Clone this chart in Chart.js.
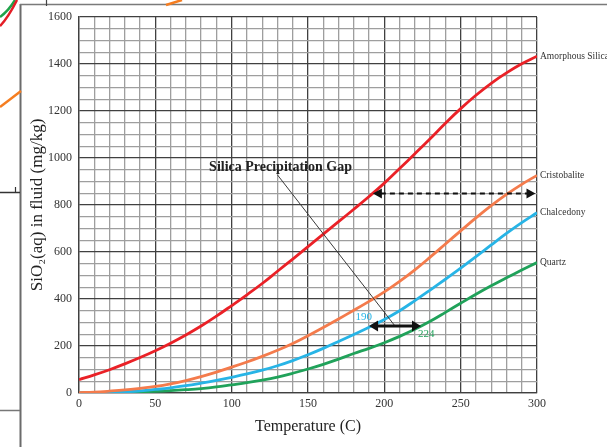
<!DOCTYPE html>
<html>
<head>
<meta charset="utf-8">
<script src="https://cdn.jsdelivr.net/npm/chart.js@4/dist/chart.umd.min.js"></script>
<style>
  html, body { margin: 0; padding: 0; background: #fff; }
  #wrap { position: relative; width: 607px; height: 447px; overflow: hidden; background: #fff; }
  #c { position: absolute; left: 0; top: 0; }
  #frame { position: absolute; left: 0; top: 0; pointer-events: none; }
</style>
</head>
<body>
<div id="wrap">
  <canvas id="c" width="607" height="447"></canvas>
  <!-- page frame and margin marks around the figure -->
  <svg id="frame" width="607" height="447">
    <line x1="20.5" y1="4" x2="20.5" y2="447" stroke="#6b6b6b" stroke-width="2"/>
    <line x1="20" y1="4.5" x2="607" y2="4.5" stroke="#7a7a7a" stroke-width="1.5"/>
    <line x1="46.5" y1="0" x2="46.5" y2="6" stroke="#444" stroke-width="1.2"/>
    <line x1="0" y1="192.5" x2="20" y2="192.5" stroke="#333" stroke-width="1.5"/>
    <line x1="15.5" y1="187" x2="15.5" y2="193" stroke="#333" stroke-width="1.2"/>
    <line x1="0" y1="410.5" x2="20" y2="410.5" stroke="#777" stroke-width="1.5"/>
    <path d="M0,17 C4,14 9,10 15,0" fill="none" stroke="#1fa34a" stroke-width="2.5"/>
    <path d="M0,26 C5,21 10,14 17,0" fill="none" stroke="#e41e26" stroke-width="2.5"/>
    <path d="M0,107 L21,91" fill="none" stroke="#f57d20" stroke-width="2.5"/>
    <path d="M166,5 L182,0" fill="none" stroke="#f57d20" stroke-width="2.5"/>
  </svg>
</div>
<script>
// Temperature grid (°C) and solubility of the silica phases (mg/kg)
const temps = [0,10,20,30,40,50,60,70,80,90,100,110,120,130,140,150,160,170,180,190,200,210,220,230,240,250,260,270,280,290,300];
const amorphousSilica = [57,77,99,124,151,180,212,247,285,327,372,418,466,518,570,623,676,729,782,836,893,955,1018,1082,1148,1210,1267,1318,1362,1401,1433];
const cristobalite = [2,4,8,13,20,28,39,53,70,89,110,132,156,182,211,244,279,315,352,390,430,475,524,578,634,690,745,797,845,888,926];
const chalcedony = [0,1,3,5,9,15,22,31,42,54,67,81,97,116,138,163,190,219,249,280,313,350,393,438,484,531,580,630,679,725,767];
const quartz = [0,1,2,3,5,7,10,14,19,26,35,44,55,68,84,102,122,144,168,190,214,241,271,305,343,382,420,456,490,523,555];

const seriesNames = ['Amorphous Silica', 'Cristobalite', 'Chalcedony', 'Quartz'];
const seriesColors = ['#ea2127', '#f47b4c', '#27b4e6', '#20a25a'];

// Annotated gaps: [start temperature, end temperature] and the solubility level they sit on
const gapArrow = [192.5, 299];
const gapLevel = 850;
const quartzGap = [190, 224];
const quartzGapLevel = 285;
const gapTitle = 'Silica Precipitation Gap';
const gapTitleAt = [132, 962];
const leaderFrom = [130, 928];

const xTicks = { min: 0, max: 300, minor: 10, major: 50 };
const yTicks = { min: 0, max: 1600, minor: 50, major: 200 };

const serif = "'Liberation Serif', 'Times New Roman', serif";

function toPoints(vals) { return temps.map((t, i) => ({ x: t, y: vals[i] })); }

function arrowHead(ctx, tipX, tipY, dir, len, half) {
  ctx.beginPath();
  ctx.moveTo(tipX, tipY);
  ctx.lineTo(tipX - dir * len, tipY - half);
  ctx.lineTo(tipX - dir * len, tipY + half);
  ctx.closePath();
  ctx.fill();
}

const annotations = {
  id: 'annotations',
  afterDatasetsDraw(chart) {
    const { ctx, scales: { x, y } } = chart;
    ctx.save();

    // leader line from the title to the quartz–chalcedony gap
    ctx.strokeStyle = '#3a3a3a';
    ctx.lineWidth = 1;
    ctx.beginPath();
    ctx.moveTo(x.getPixelForValue(leaderFrom[0]), y.getPixelForValue(leaderFrom[1]));
    ctx.lineTo(x.getPixelForValue((quartzGap[0] + quartzGap[1]) / 2), y.getPixelForValue(quartzGapLevel));
    ctx.stroke();

    // title of the annotation
    ctx.fillStyle = '#222';
    ctx.font = 'bold 14px ' + serif;
    ctx.textAlign = 'center';
    ctx.textBaseline = 'middle';
    ctx.fillText(gapTitle, x.getPixelForValue(gapTitleAt[0]), y.getPixelForValue(gapTitleAt[1]));

    // dashed double arrow between amorphous silica and cristobalite
    const gy = Math.round(y.getPixelForValue(gapLevel)) + 0.5;
    const gx0 = x.getPixelForValue(gapArrow[0]);
    const gx1 = x.getPixelForValue(gapArrow[1]);
    ctx.strokeStyle = '#111';
    ctx.fillStyle = '#111';
    ctx.lineWidth = 2;
    ctx.setLineDash([5, 4]);
    ctx.beginPath();
    ctx.moveTo(gx0 + 8, gy);
    ctx.lineTo(gx1 - 8, gy);
    ctx.stroke();
    ctx.setLineDash([]);
    arrowHead(ctx, gx0, gy, -1, 9, 5);
    arrowHead(ctx, gx1, gy, 1, 9, 5);

    // solid double arrow between chalcedony and quartz
    const qy = y.getPixelForValue(quartzGapLevel);
    const qx0 = x.getPixelForValue(quartzGap[0]);
    const qx1 = x.getPixelForValue(quartzGap[1]);
    ctx.lineWidth = 3;
    ctx.beginPath();
    ctx.moveTo(qx0 + 6, qy);
    ctx.lineTo(qx1 - 6, qy);
    ctx.stroke();
    arrowHead(ctx, qx0, qy, -1, 9, 5.5);
    arrowHead(ctx, qx1, qy, 1, 9, 5.5);

    ctx.font = '11px ' + serif;
    ctx.textBaseline = 'middle';
    ctx.fillStyle = seriesColors[2];
    ctx.textAlign = 'right';
    ctx.fillText(String(quartzGap[0]), qx0 + 3, qy - 9);
    ctx.fillStyle = seriesColors[3];
    ctx.textAlign = 'left';
    ctx.fillText(String(quartzGap[1]), qx1 - 3, qy + 8);

    // curve names at the right-hand end of each line
    ctx.fillStyle = '#333';
    ctx.font = '9.5px ' + serif;
    ctx.textAlign = 'left';
    chart.data.datasets.forEach((ds, i) => {
      const last = ds.data[ds.data.length - 1];
      ctx.fillText(seriesNames[i], x.right + 3, y.getPixelForValue(last.y));
    });

    ctx.restore();
  }
};

const gridColor = (major) => (c) => (c.tick && c.tick.value % major === 0) ? '#404040' : '#9e9e9e';

new Chart(document.getElementById('c'), {
  type: 'line',
  data: {
    datasets: [amorphousSilica, cristobalite, chalcedony, quartz].map((vals, i) => ({
      label: seriesNames[i],
      data: toPoints(vals),
      borderColor: seriesColors[i],
      borderWidth: 2.8,
      pointRadius: 0,
      tension: 0.4,
      fill: false
    }))
  },
  options: {
    responsive: false,
    animation: false,
    devicePixelRatio: 1,
    layout: { padding: { top: 17, right: 70, left: 0, bottom: 0 } },
    plugins: { legend: { display: false }, tooltip: { enabled: false } },
    scales: {
      x: {
        type: 'linear',
        min: xTicks.min,
        max: xTicks.max,
        afterFit(s) { s.height = 54; },
        ticks: {
          stepSize: xTicks.minor,
          autoSkip: false,
          maxRotation: 0,
          padding: 4,
          color: '#333',
          font: { family: serif, size: 12 },
          callback: (v) => (v % xTicks.major === 0 ? String(v) : '')
        },
        grid: { color: gridColor(xTicks.major), lineWidth: 1.3, drawTicks: false },
        border: { color: '#404040', width: 1.3 },
        title: {
          display: true,
          text: 'Temperature (C)',
          color: '#222',
          font: { family: serif, size: 16 },
          padding: { top: 0, bottom: 11 }
        }
      },
      y: {
        type: 'linear',
        min: yTicks.min,
        max: yTicks.max,
        afterFit(s) { s.width = 79; },
        ticks: {
          stepSize: yTicks.minor,
          autoSkip: false,
          padding: 7,
          color: '#333',
          font: { family: serif, size: 12 },
          callback: (v) => (v % yTicks.major === 0 ? String(v) : '')
        },
        grid: { color: gridColor(yTicks.major), lineWidth: 1.3, drawTicks: false },
        border: { color: '#404040', width: 1.3 },
        title: {
          display: true,
          text: 'SiO₂(aq) in fluid (mg/kg)',
          color: '#222',
          font: { family: serif, size: 17 },
          padding: { top: 27, bottom: 0 }
        }
      }
    }
  },
  plugins: [annotations]
});
</script>
</body>
</html>
